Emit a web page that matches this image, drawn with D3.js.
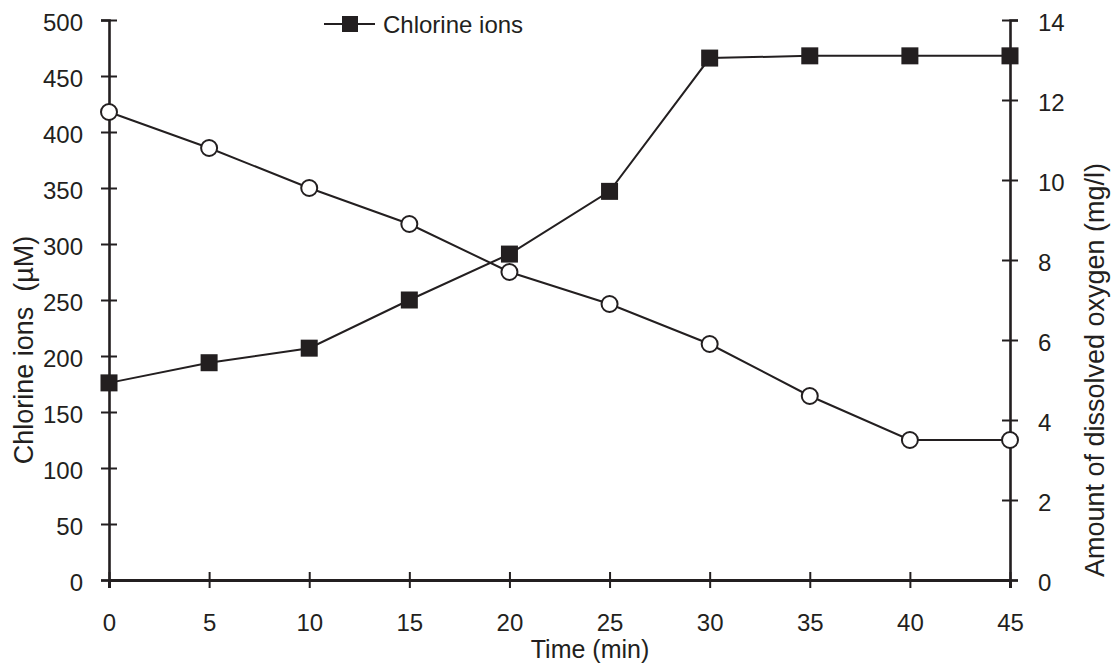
<!DOCTYPE html>
<html>
<head>
<meta charset="utf-8">
<script src="https://cdn.jsdelivr.net/npm/d3@7"></script>
<style>
  body { margin: 0; background: #fff; }
  text { font-family: "Liberation Sans", Arial, sans-serif; fill: #231f20; }
</style>
</head>
<body>
<svg id="chart" width="1117" height="666"></svg>
<script>
  // values
  const times = [0, 5, 10, 15, 20, 25, 30, 35, 40, 45];
  const chlorine = [176, 194, 207, 250, 291, 347, 466, 468, 468, 468]; // µM, left axis
  const oxygen = [11.7, 10.8, 9.8, 8.9, 7.7, 6.9, 5.9, 4.6, 3.5, 3.5]; // mg/l, right axis
  const xTicks = [0, 5, 10, 15, 20, 25, 30, 35, 40, 45];
  const yLeftTicks = [0, 50, 100, 150, 200, 250, 300, 350, 400, 450, 500];
  const yRightTicks = [0, 2, 4, 6, 8, 10, 12, 14];

  const ink = '#231f20';
  const plotLeft = 109, plotRight = 1010, plotTop = 20, plotBottom = 580;

  const svg = d3.select('#chart');

  const x = d3.scaleLinear().domain([0, 45]).range([plotLeft, plotRight]);
  const yL = d3.scaleLinear().domain([0, 500]).range([plotBottom, plotTop]);
  const yR = d3.scaleLinear().domain([0, 14]).range([plotBottom, plotTop]);

  function styleAxis(g) {
    g.select('.domain').attr('stroke', ink).attr('stroke-width', 2.6);
    g.selectAll('.tick line').attr('stroke', ink).attr('stroke-width', 2);
    g.selectAll('.tick text').attr('font-size', 24).attr('fill', ink)
      .style('font-family', '"Liberation Sans", Arial, sans-serif');
  }

  // left axis
  const gL = svg.append('g').attr('transform', `translate(${plotLeft},0)`)
    .call(d3.axisLeft(yL).tickValues(yLeftTicks).tickSizeOuter(0).tickSize(8).tickPadding(18));
  gL.selectAll('.tick line').attr('x1', 8).attr('x2', -8);
  gL.selectAll('.tick text').attr('dy', 10);
  styleAxis(gL);

  // right axis
  const gR = svg.append('g').attr('transform', `translate(${plotRight},0)`)
    .call(d3.axisRight(yR).tickValues(yRightTicks).tickSizeOuter(0).tickSize(8).tickPadding(20));
  gR.selectAll('.tick line').attr('x1', -8).attr('x2', 8);
  gR.selectAll('.tick text').attr('dy', 10);
  styleAxis(gR);

  // bottom axis
  const gX = svg.append('g').attr('transform', `translate(0,${plotBottom})`)
    .call(d3.axisBottom(x).tickValues(xTicks).tickSizeOuter(0).tickSize(8));
  gX.selectAll('.tick line').attr('y1', -8).attr('y2', 8);
  gX.selectAll('.tick text').attr('dy', 0).attr('y', 51);
  styleAxis(gX);
  gX.select('.domain').attr('stroke-width', 3);

  // axis titles
  svg.append('text')
    .attr('x', 590).attr('y', 658)
    .attr('text-anchor', 'middle').attr('font-size', 25)
    .text('Time (min)');

  svg.append('text')
    .attr('transform', 'translate(33,350) rotate(-90)')
    .attr('text-anchor', 'middle').attr('font-size', 27)
    .attr('xml:space', 'preserve')
    .style('white-space', 'pre')
    .text('Chlorine ions  (µM)');

  svg.append('text')
    .attr('transform', 'translate(1104,370) rotate(-90)')
    .attr('text-anchor', 'middle').attr('font-size', 27)
    .text('Amount of dissolved oxygen (mg/l)');

  // dissolved oxygen series (open circles)
  const oxy = times.map((t, i) => ({ t, v: oxygen[i] }));
  svg.append('path')
    .attr('d', d3.line().x(d => x(d.t)).y(d => yR(d.v))(oxy))
    .attr('fill', 'none').attr('stroke', ink).attr('stroke-width', 2);

  // chlorine series (filled squares)
  const chl = times.map((t, i) => ({ t, v: chlorine[i] }));
  svg.append('path')
    .attr('d', d3.line().x(d => x(d.t)).y(d => yL(d.v))(chl))
    .attr('fill', 'none').attr('stroke', ink).attr('stroke-width', 2);

  svg.selectAll('.oxy').data(oxy).enter().append('circle')
    .attr('class', 'oxy')
    .attr('cx', d => x(d.t)).attr('cy', d => yR(d.v)).attr('r', 8)
    .attr('fill', '#fff').attr('stroke', ink).attr('stroke-width', 2);

  const sq = 17;
  svg.selectAll('.chl').data(chl).enter().append('rect')
    .attr('class', 'chl')
    .attr('x', d => x(d.t) - sq / 2).attr('y', d => yL(d.v) - sq / 2)
    .attr('width', sq).attr('height', sq)
    .attr('fill', ink);

  // legend
  const lg = svg.append('g').attr('transform', 'translate(324,24)');
  lg.append('line').attr('x1', 0).attr('x2', 51).attr('y1', 0).attr('y2', 0)
    .attr('stroke', ink).attr('stroke-width', 2);
  lg.append('rect').attr('x', 26 - 8).attr('y', -8).attr('width', 16).attr('height', 16)
    .attr('fill', ink);
  lg.append('text').attr('x', 59).attr('y', 9).attr('font-size', 24)
    .text('Chlorine ions');
</script>
</body>
</html>
